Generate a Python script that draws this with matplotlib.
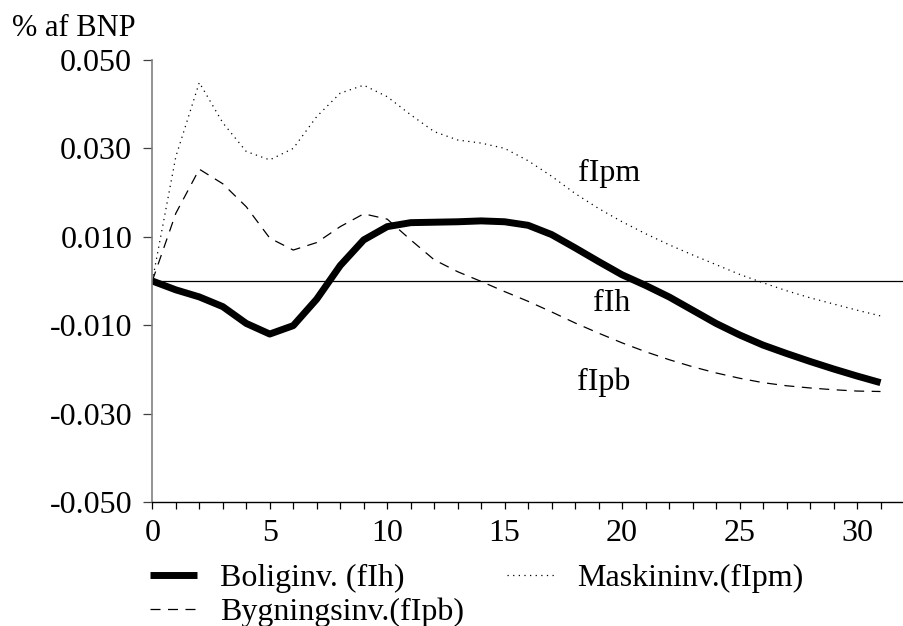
import matplotlib
matplotlib.use("Agg")
import matplotlib.pyplot as plt
from matplotlib.ticker import MultipleLocator, FixedLocator

periods = list(range(32))
fIh = [0, -0.0020, -0.0036, -0.0058, -0.0096, -0.0120, -0.0101, -0.0041, 0.0035, 0.0093,
       0.0123, 0.0132, 0.0133, 0.0134, 0.0136, 0.0134, 0.0126, 0.0105, 0.0075, 0.0044,
       0.0014, -0.0010, -0.0036, -0.0066, -0.0096, -0.0122, -0.0145, -0.0164, -0.0182,
       -0.0199, -0.0215, -0.0230]
fIpb = [0, 0.0153, 0.0253, 0.0220, 0.0168, 0.0097, 0.0070, 0.0087, 0.0123, 0.0152,
        0.0140, 0.0093, 0.0048, 0.0021, -0.0001, -0.0024, -0.0046, -0.0070, -0.0095,
        -0.0118, -0.0140, -0.0160, -0.0178, -0.0194, -0.0208, -0.0220, -0.0230, -0.0237,
        -0.0242, -0.0246, -0.0249, -0.0250]
fIpm = [0, 0.0281, 0.0449, 0.0358, 0.0293, 0.0274, 0.0300, 0.0372, 0.0425, 0.0443,
        0.0417, 0.0376, 0.0338, 0.0319, 0.0312, 0.0300, 0.0272, 0.0237, 0.0198, 0.0164,
        0.0134, 0.0107, 0.0082, 0.0059, 0.0037, 0.0015, -0.0004, -0.0022, -0.0038,
        -0.0052, -0.0066, -0.0079]

legend_labels = ["Boliginv. (fIh)", "Bygningsinv.(fIpb)", "Maskininv.(fIpm)"]
curve_labels = ["fIh", "fIpb", "fIpm"]
label_pos = [(18.77, -0.0069), (18.06, -0.0247), (18.11, 0.0226)]
yticks = [-0.05, -0.03, -0.01, 0.01, 0.03, 0.05]
ytick_labels = ["-0.050", "-0.030", "-0.010", "0.010", "0.030", "0.050"]
xticks_major = [0, 5, 10, 15, 20, 25, 30]
y_title = "% af BNP"

plt.rcParams['font.family'] = ['Liberation Serif', 'DejaVu Serif']
FS = 23

fig = plt.figure(figsize=(9.04, 6.26), dpi=100)
ax = fig.add_axes([152.3/904, (626-502)/626, 1 - 152.3/904, (502-60)/626])

h1, = ax.plot(periods, fIh, color='black', lw=5, solid_capstyle='butt', solid_joinstyle='round')
h2, = ax.plot(periods, fIpb, color='black', lw=0.9, linestyle=(0, (8, 6)))
h3, = ax.plot(periods, fIpm, color='black', lw=0.9, linestyle=(0, (1, 3.5)))
ax.axhline(0, color='black', lw=0.9, zorder=1)

for txt, (x, y) in zip(curve_labels, label_pos):
    ax.text(x, y, txt, ha='left', va='baseline', fontsize=FS)

ax.set_xlim(0, 32)
ax.set_ylim(-0.05, 0.05)
ax.yaxis.set_major_locator(FixedLocator(yticks))
ax.set_yticklabels(ytick_labels)
ax.xaxis.set_major_locator(FixedLocator(xticks_major))
ax.xaxis.set_minor_locator(MultipleLocator(1))
for s in ['top', 'right']:
    ax.spines[s].set_visible(False)
ax.spines['left'].set_color('#808080')
ax.spines['left'].set_linewidth(1.2)
ax.spines['bottom'].set_color('black')
ax.spines['bottom'].set_linewidth(1.0)
ax.tick_params(axis='y', direction='out', length=6.5, width=0.9, color='#404040', pad=8, labelsize=FS)
ax.tick_params(axis='x', which='both', direction='out', length=5, width=0.9, color='black', pad=7, labelsize=FS)

fig.text(12/904, 1 - 36/626, y_title, fontsize=22, ha='left', va='baseline')

ax.legend([h1, h2, h3], legend_labels, ncol=2, loc='upper left',
          bbox_to_anchor=(150/904, 1 - 564/626), bbox_transform=fig.transFigure,
          frameon=False, fontsize=FS, handlelength=1.47, handletextpad=0.72,
          labelspacing=0.12, columnspacing=1.36, borderpad=0, borderaxespad=0)

fig.savefig("out.png", dpi=100)
